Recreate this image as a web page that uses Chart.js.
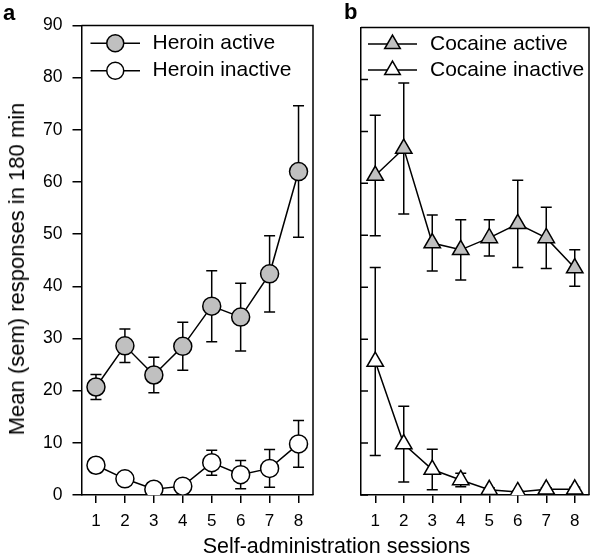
<!DOCTYPE html>
<html>
<head>
<meta charset="utf-8">
<script src="https://cdn.jsdelivr.net/npm/chart.js@4.4.1/dist/chart.umd.min.js"></script>
<style>
  body { margin: 0; width: 600px; height: 558px; position: relative; background: #fff; overflow: hidden;
         font-family: "Liberation Sans", Arial, sans-serif; color: #000; }
  .panel { position: absolute; top: 0; height: 558px; }
  #wrapA { left: 0; width: 330px; }
  #wrapB { left: 330px; width: 270px; }
  .txt { position: absolute; white-space: nowrap; line-height: 1; }
</style>
</head>
<body>
<div class="panel" id="wrapA"><canvas id="chartA"></canvas></div>
<div class="panel" id="wrapB"><canvas id="chartB"></canvas></div>
<div class="txt" style="left:3px;top:2px;font-size:22px;font-weight:bold">a</div>
<div class="txt" style="left:344px;top:1px;font-size:22px;font-weight:bold">b</div>
<div class="txt" style="left:16.5px;top:268.5px;font-size:22px;transform:translate(-50%,-50%) rotate(-90deg)">Mean (sem) responses in 180 min</div>
<div class="txt" style="left:336.5px;top:547px;font-size:21.5px;transform:translate(-50%,-50%)">Self-administration sessions</div>
<script>
const sessions = ['1', '2', '3', '4', '5', '6', '7', '8'];
const yMin = 0, yMax = 90, yStep = 10;

const heroinActive = [20.7, 28.6, 23.0, 28.5, 36.2, 34.1, 42.4, 62.0];
const heroinActiveSem = [2.4, 3.2, 3.4, 4.6, 6.8, 6.5, 7.3, 12.6];
const heroinInactive = [5.7, 3.1, 1.1, 1.7, 6.2, 3.9, 5.1, 9.8];
const heroinInactiveSem = [1.4, 0.8, 0.5, 0.7, 2.4, 2.7, 3.6, 4.5];

const cocaineActive = [61.5, 66.7, 48.5, 47.2, 49.5, 52.2, 49.5, 43.7];
const cocaineActiveSem = [11.6, 12.6, 5.4, 5.8, 3.5, 8.4, 5.9, 3.5];
const cocaineInactive = [25.7, 9.8, 4.9, 2.9, 1.0, 0.6, 1.1, 1.1];
const cocaineInactiveSem = [18.1, 7.3, 3.9, 1.3, 0.4, 0.2, 0.3, 0.4];

const grey = '#c0c0c0';

// error bars under the markers, box frame, inner ticks and legend
const panelPlugin = {
  id: 'panel',
  beforeDatasetsDraw(chart) {
    const ctx = chart.ctx, y = chart.scales.y;
    ctx.save();
    ctx.strokeStyle = '#000';
    ctx.lineWidth = 1.5;
    chart.data.datasets.forEach((ds, i) => {
      chart.getDatasetMeta(i).data.forEach((pt, j) => {
        const top = y.getPixelForValue(ds.data[j] + ds.sem[j]);
        const bot = y.getPixelForValue(ds.data[j] - ds.sem[j]);
        ctx.beginPath();
        ctx.moveTo(pt.x, top); ctx.lineTo(pt.x, bot);
        ctx.moveTo(pt.x - 5.5, top); ctx.lineTo(pt.x + 5.5, top);
        ctx.moveTo(pt.x - 5.5, bot); ctx.lineTo(pt.x + 5.5, bot);
        ctx.stroke();
      });
    });
    ctx.restore();
  },
  afterDraw(chart, args, opts) {
    const ctx = chart.ctx, a = chart.chartArea, y = chart.scales.y;
    ctx.save();
    ctx.strokeStyle = '#000';
    ctx.lineWidth = 1.5;
    ctx.beginPath();
    ctx.moveTo(a.left, a.top); ctx.lineTo(a.right, a.top); ctx.lineTo(a.right, a.bottom);
    if (opts.inwardTicks) {
      y.ticks.forEach(t => {
        const py = y.getPixelForValue(t.value);
        ctx.moveTo(a.left, py); ctx.lineTo(a.left + 7, py);
      });
    }
    ctx.stroke();

    const lg = opts.legend;
    ctx.font = '21px "Liberation Sans", Arial, sans-serif';
    ctx.textBaseline = 'middle';
    chart.data.datasets.forEach((ds, i) => {
      const ry = lg.rows[i];
      ctx.beginPath();
      ctx.moveTo(lg.x0, ry); ctx.lineTo(lg.x1, ry);
      ctx.stroke();
      ctx.fillStyle = ds.pointBackgroundColor;
      Chart.helpers.drawPoint(ctx, {
        pointStyle: ds.pointStyle, radius: ds.pointRadius - 0.5, borderWidth: 1.5, rotation: 0
      }, (lg.x0 + lg.x1) / 2, ry);
      ctx.fillStyle = '#000';
      ctx.fillText(ds.label, lg.textX, ry);
    });
    ctx.restore();
  }
};

function series(label, data, sem, style, fill, radius) {
  return {
    label, data, sem,
    borderColor: '#000', borderWidth: 1.5,
    pointStyle: style, pointRadius: radius, pointBorderWidth: 1.5,
    pointBorderColor: '#000', pointBackgroundColor: fill
  };
}

function makePanel(id, datasets, cfg) {
  return new Chart(document.getElementById(id), {
    type: 'line',
    data: { labels: sessions, datasets },
    options: {
      responsive: true,
      maintainAspectRatio: false,
      animation: false,
      events: [],
      layout: { padding: { top: cfg.top, right: cfg.right, left: 0, bottom: 0 } },
      plugins: {
        legend: { display: false },
        tooltip: { enabled: false },
        panel: { legend: cfg.legend, inwardTicks: !cfg.yLabels }
      },
      scales: {
        x: {
          type: 'category',
          offset: true,
          grid: { offset: false, drawOnChartArea: false, tickLength: 8, color: '#000', lineWidth: 1.5 },
          border: { color: '#000', width: 1.5 },
          ticks: { color: '#000', font: { size: 17, family: '"Liberation Sans", Arial, sans-serif' }, padding: 8 },
          afterFit(s) { s.height = 63; }
        },
        y: {
          min: yMin, max: yMax,
          grid: { drawOnChartArea: false, drawTicks: cfg.yLabels, tickLength: 9, color: '#000', lineWidth: 1.5 },
          border: { color: '#000', width: 1.5 },
          ticks: { display: cfg.yLabels, stepSize: yStep, color: '#000', padding: 10,
                   font: { size: 17.5, family: '"Liberation Sans", Arial, sans-serif' } },
          afterFit(s) { s.width = cfg.yWidth; }
        }
      }
    },
    plugins: [panelPlugin]
  });
}

makePanel('chartA', [
  series('Heroin active', heroinActive, heroinActiveSem, 'circle', grey, 9),
  series('Heroin inactive', heroinInactive, heroinInactiveSem, 'circle', '#fff', 9)
], { top: 25.5, right: 17, yWidth: 81.5, yLabels: true,
     legend: { x0: 90.5, x1: 140, textX: 152.5, rows: [43.3, 70.7] } });

makePanel('chartB', [
  series('Cocaine active', cocaineActive, cocaineActiveSem, 'triangle', grey, 9.5),
  series('Cocaine inactive', cocaineInactive, cocaineInactiveSem, 'triangle', '#fff', 9.5)
], { top: 27.5, right: 3, yWidth: 31, yLabels: false,
     legend: { x0: 38, x1: 87, textX: 100, rows: [44, 70] } });
</script>
</body>
</html>
